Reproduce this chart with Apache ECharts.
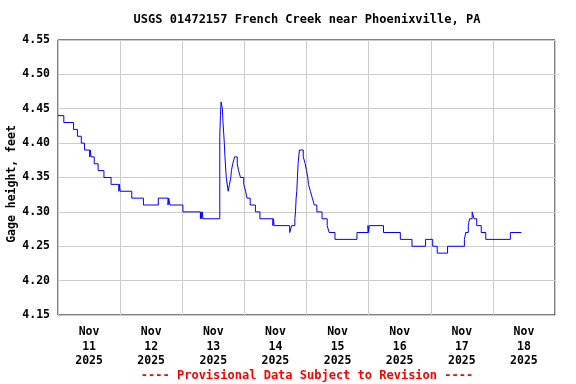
<!DOCTYPE html>
<html>
<head>
<meta charset="utf-8">
<script src="https://cdn.jsdelivr.net/npm/echarts@6/dist/echarts.min.js"></script>
<style>
html,body{margin:0;padding:0;background:#fff;}
#chart{width:576px;height:384px;}
</style>
</head>
<body>
<div id="chart"></div>
<script>
const chartTitle = 'USGS 01472157 French Creek near Phoenixville, PA';
const yAxisTitle = 'Gage height, feet';
const footerText = '---- Provisional Data Subject to Revision ----';
const startTime = '2025-11-11 00:00';
const endTime = '2025-11-19 00:00';
const dayLabels = ['Nov\n11\n2025','Nov\n12\n2025','Nov\n13\n2025','Nov\n14\n2025','Nov\n15\n2025','Nov\n16\n2025','Nov\n17\n2025','Nov\n18\n2025'];
const yTicks = [4.15, 4.20, 4.25, 4.30, 4.35, 4.40, 4.45, 4.50, 4.55];

// Times at which the reading changes, and the reading from that time on (feet)
const times = [
 '2025-11-11 00:00','2025-11-11 02:15','2025-11-11 06:00','2025-11-11 07:30','2025-11-11 09:00',
 '2025-11-11 10:15','2025-11-11 12:15','2025-11-11 12:30','2025-11-11 12:45','2025-11-11 14:00',
 '2025-11-11 15:30','2025-11-11 17:45','2025-11-11 20:30','2025-11-11 23:30','2025-11-11 23:45',
 '2025-11-12 00:00','2025-11-12 04:30','2025-11-12 09:00','2025-11-12 14:45','2025-11-12 18:30',
 '2025-11-12 18:45','2025-11-12 19:15','2025-11-13 00:15','2025-11-13 07:00','2025-11-13 07:15',
 '2025-11-13 07:30','2025-11-13 07:45','2025-11-13 08:00','2025-11-13 14:30','2025-11-13 14:45',
 '2025-11-13 15:00','2025-11-13 15:30','2025-11-13 15:45','2025-11-13 16:15','2025-11-13 16:30',
 '2025-11-13 17:00','2025-11-13 17:45','2025-11-13 18:15','2025-11-13 18:45','2025-11-13 19:00',
 '2025-11-13 19:30','2025-11-13 20:15','2025-11-13 21:15','2025-11-13 21:45','2025-11-13 22:30',
 '2025-11-13 23:45','2025-11-14 00:30','2025-11-14 01:00','2025-11-14 02:15','2025-11-14 04:15',
 '2025-11-14 06:00','2025-11-14 11:00','2025-11-14 11:15','2025-11-14 11:30','2025-11-14 17:30',
 '2025-11-14 18:15','2025-11-14 19:30','2025-11-14 19:45','2025-11-14 20:00','2025-11-14 20:15',
 '2025-11-14 20:30','2025-11-14 20:45','2025-11-14 21:15','2025-11-14 22:45','2025-11-14 23:30',
 '2025-11-15 00:00','2025-11-15 00:30','2025-11-15 00:45','2025-11-15 01:30','2025-11-15 02:15',
 '2025-11-15 03:00','2025-11-15 04:00','2025-11-15 06:00','2025-11-15 08:00','2025-11-15 08:45',
 '2025-11-15 11:00','2025-11-15 19:30','2025-11-15 23:45','2025-11-16 00:00','2025-11-16 00:15',
 '2025-11-16 05:45','2025-11-16 12:15','2025-11-16 16:45','2025-11-16 22:00','2025-11-17 00:45',
 '2025-11-17 02:30','2025-11-17 06:30','2025-11-17 13:00','2025-11-17 13:30','2025-11-17 14:30',
 '2025-11-17 15:00','2025-11-17 16:00','2025-11-17 16:45','2025-11-17 17:45','2025-11-17 19:30',
 '2025-11-17 21:15','2025-11-18 06:45','2025-11-18 11:00'
];
const gageHeight = [
 4.44,4.43,4.42,4.41,4.40,
 4.39,4.38,4.39,4.38,4.37,
 4.36,4.35,4.34,4.33,4.34,
 4.33,4.32,4.31,4.32,4.31,
 4.32,4.31,4.30,4.29,4.30,
 4.29,4.30,4.29,4.41,4.44,
 4.46,4.45,4.43,4.40,4.38,
 4.35,4.33,4.34,4.35,4.36,
 4.37,4.38,4.37,4.36,4.35,
 4.34,4.33,4.32,4.31,4.30,
 4.29,4.28,4.29,4.28,4.27,
 4.28,4.29,4.30,4.32,4.33,
 4.35,4.37,4.39,4.38,4.37,
 4.36,4.35,4.34,4.33,4.32,
 4.31,4.30,4.29,4.28,4.27,
 4.26,4.27,4.28,4.27,4.28,
 4.27,4.26,4.25,4.26,4.25,
 4.24,4.25,4.26,4.27,4.28,
 4.29,4.30,4.29,4.28,4.27,
 4.26,4.27,4.27
];

function parseT(s){
  const [d,t] = s.split(' ');
  const [Y,M,D] = d.split('-').map(Number);
  const [h,m] = t.split(':').map(Number);
  return Date.UTC(Y,M-1,D,h,m);
}
const t0 = parseT(startTime);
const dayOf = s => (parseT(s) - t0) / 86400000;
const xMax = dayOf(endTime);
const seriesData = times.map((t,i) => [dayOf(t), gageHeight[i]]);

const FONT = '"DejaVu Sans Mono", "Liberation Mono", monospace';
const chart = echarts.init(document.getElementById('chart'), null, {renderer:'canvas'});
chart.setOption({
  backgroundColor: '#fff',
  animation: false,
  grid: {left:58, right:21, top:40, bottom:69, show:true, borderColor:'#000', borderWidth:1, backgroundColor:'transparent'},
  xAxis: [{
    type:'value', min:0, max:xMax, interval:0.5,
    axisLine:{show:false}, axisTick:{show:false}, splitLine:{show:false},
    axisLabel:{
      margin:10, color:'#000', fontFamily:FONT, fontWeight:'bold', fontSize:11.5, lineHeight:14.5,
      showMinLabel:false, showMaxLabel:false,
      formatter: v => (Math.abs(v - Math.floor(v) - 0.5) < 1e-6 && dayLabels[Math.floor(v)]) ? dayLabels[Math.floor(v)] : ''
    }
  },{
    type:'value', min:0, max:xMax, interval:1, position:'bottom',
    axisLine:{show:false}, axisTick:{show:false}, axisLabel:{show:false},
    splitLine:{show:true, lineStyle:{color:'#cccccc', width:1}}
  }],
  yAxis: {
    type:'value', min:yTicks[0], max:yTicks[yTicks.length-1], interval:0.05,
    axisLine:{show:false}, axisTick:{show:false},
    splitLine:{show:true, lineStyle:{color:'#cccccc', width:1}},
    axisLabel:{margin:8, color:'#000', fontFamily:FONT, fontWeight:'bold', fontSize:11.5, formatter: v => v.toFixed(2)}
  },
  series: [{
    type:'line', xAxisIndex:0, data:seriesData, step:'end', showSymbol:false,
    lineStyle:{color:'#0000ff', width:1}, z:3
  }],
  graphic: [
    {type:'text', x:307, y:20, style:{text:chartTitle, fill:'#000', font:'bold 12px ' + FONT, textAlign:'center', textVerticalAlign:'middle', align:'center', verticalAlign:'middle'}},
    {type:'text', x:307, y:376, style:{text:footerText, fill:'#ff0000', font:'bold 12px ' + FONT, textAlign:'center', textVerticalAlign:'middle', align:'center', verticalAlign:'middle'}},
    {type:'text', x:12, y:184, rotation:Math.PI/2, style:{text:yAxisTitle, fill:'#000', font:'bold 11.5px ' + FONT, textAlign:'center', textVerticalAlign:'middle', align:'center', verticalAlign:'middle'}}
  ]
});
</script>
</body>
</html>
